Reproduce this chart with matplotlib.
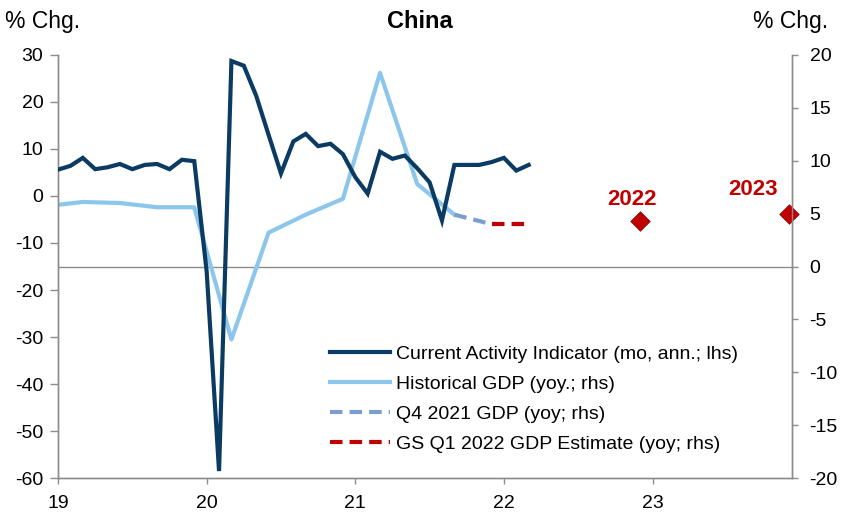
import numpy as np
import pandas as pd
import matplotlib
matplotlib.use("Agg")
import matplotlib.pyplot as plt

plt.rcParams["font.family"] = ["Liberation Sans", "DejaVu Sans"]
plt.rcParams["axes.unicode_minus"] = False

# Current Activity Indicator, monthly, Jan 2019 - Mar 2022 (lhs)
cai_months = pd.date_range("2019-01-01", "2022-03-01", freq="MS")
cai_values = [
    5.6, 6.4, 8.1, 5.7, 6.1, 6.8, 5.7, 6.6, 6.8, 5.7, 7.7, 7.4,
    -16.0, -58.5, 28.7, 27.7, 21.3, 13.0, 4.8, 11.6, 13.2, 10.6, 11.1, 8.9,
    4.0, 0.5, 9.4, 7.9, 8.6, 5.9, 2.9, -5.2, 6.6, 6.6, 6.6, 7.2,
    8.1, 5.4, 6.6,
]

# Real GDP yoy, quarterly (rhs)
gdp_quarters = pd.date_range("2018-12-01", "2021-09-01", freq="3MS")
gdp_values = [5.7, 6.1, 6.0, 5.6, 5.6, -6.9, 3.2, 4.9, 6.4, 18.3, 7.8, 4.9]

q4_dates = ["2021-09-01", "2021-12-01"]
q4_values = [4.9, 4.0]

gs_q1_dates = ["2021-12-01", "2022-03-01"]
gs_q1_values = [4.0, 4.0]

annual_labels = ["2022", "2023"]
annual_dates = ["2022-12-01", "2023-12-01"]
annual_values = [4.3, 5.0]

x_ticks = [19, 20, 21, 22, 23]
x_ticklabels = ["19", "20", "21", "22", "23"]


def to_year(dates):
    d = pd.to_datetime(pd.Series(dates))
    return (d.dt.year - 2000 + (d.dt.month - 1) / 12).to_numpy()


navy = "#0b3b63"
light = "#8cc6ec"
mid = "#7a9fcf"
red = "#c00000"
grey = "#8c8c8c"

fig = plt.figure(figsize=(8.41, 5.13), dpi=100)
ax = fig.add_axes([0.069, 0.068, 0.873, 0.825])
ax2 = ax.twinx()

ax.plot(to_year(cai_months), cai_values, color=navy, lw=3.0,
        solid_joinstyle="miter", zorder=3,
        label="Current Activity Indicator (mo, ann.; lhs)")
ax2.plot(to_year(gdp_quarters), gdp_values, color=light, lw=3.0,
         label="Historical GDP (yoy.; rhs)")
ax2.plot(to_year(q4_dates), q4_values, color=mid, lw=3.0,
         dashes=(3, 1.7), label="Q4 2021 GDP (yoy; rhs)")
ax2.plot(to_year(gs_q1_dates), gs_q1_values, color=red, lw=3.0,
         dashes=(3, 1.7), label="GS Q1 2022 GDP Estimate (yoy; rhs)")

ax2.scatter(to_year(annual_dates), annual_values, marker="D", s=100,
            color=red, edgecolors="#7a1010", linewidths=0.5,
            zorder=5, clip_on=False)
label_offsets = {"2022": (-6, 8), "2023": (-26, 10)}
for lab, xx, yy in zip(annual_labels, to_year(annual_dates), annual_values):
    ax2.annotate(lab, (xx, yy), xytext=label_offsets[lab],
                 textcoords="offset points", ha="center", va="bottom",
                 color=red, fontsize=16, fontweight="bold")

ax2.axhline(0, color=grey, lw=1.0, zorder=1)

ax.set_xlim(19, 23.94)
ax.set_ylim(-60, 30)
ax.set_yticks(np.arange(-60, 31, 10))
ax2.set_ylim(-20, 20)
ax2.set_yticks(np.arange(-20, 21, 5))
ax.set_xticks(x_ticks)
ax.set_xticklabels(x_ticklabels)

for a in (ax, ax2):
    a.spines["top"].set_visible(False)
    for s in ("left", "right", "bottom"):
        a.spines[s].set_color(grey)
        a.spines[s].set_linewidth(1.0)
    a.tick_params(colors=grey, labelcolor="black", labelsize=14,
                  direction="out", width=1)
ax.tick_params(axis="y", length=6, pad=4.5)
ax.tick_params(axis="x", length=4, pad=8)
ax2.tick_params(axis="y", length=4.5, pad=8)

# put the lhs line above the rhs axes
ax.set_zorder(ax2.get_zorder() + 1)
ax.patch.set_visible(False)

handles = ax.get_lines()[:1] + ax2.get_lines()[:3]
ax2.legend(handles, [h.get_label() for h in handles], loc="upper left",
           bbox_to_anchor=(0.37, 0.313), frameon=False, fontsize=14,
           handlelength=3.1, handletextpad=0.3, labelspacing=0.63,
           borderpad=0, borderaxespad=0)

fig.text(0.499, 0.958, "China", ha="center", va="center",
         fontsize=17, fontweight="bold")
fig.text(0.006, 0.958, "% Chg.", ha="left", va="center", fontsize=16.5)
fig.text(0.985, 0.958, "% Chg.", ha="right", va="center", fontsize=16.5)

fig.savefig("out.png", dpi=100)
